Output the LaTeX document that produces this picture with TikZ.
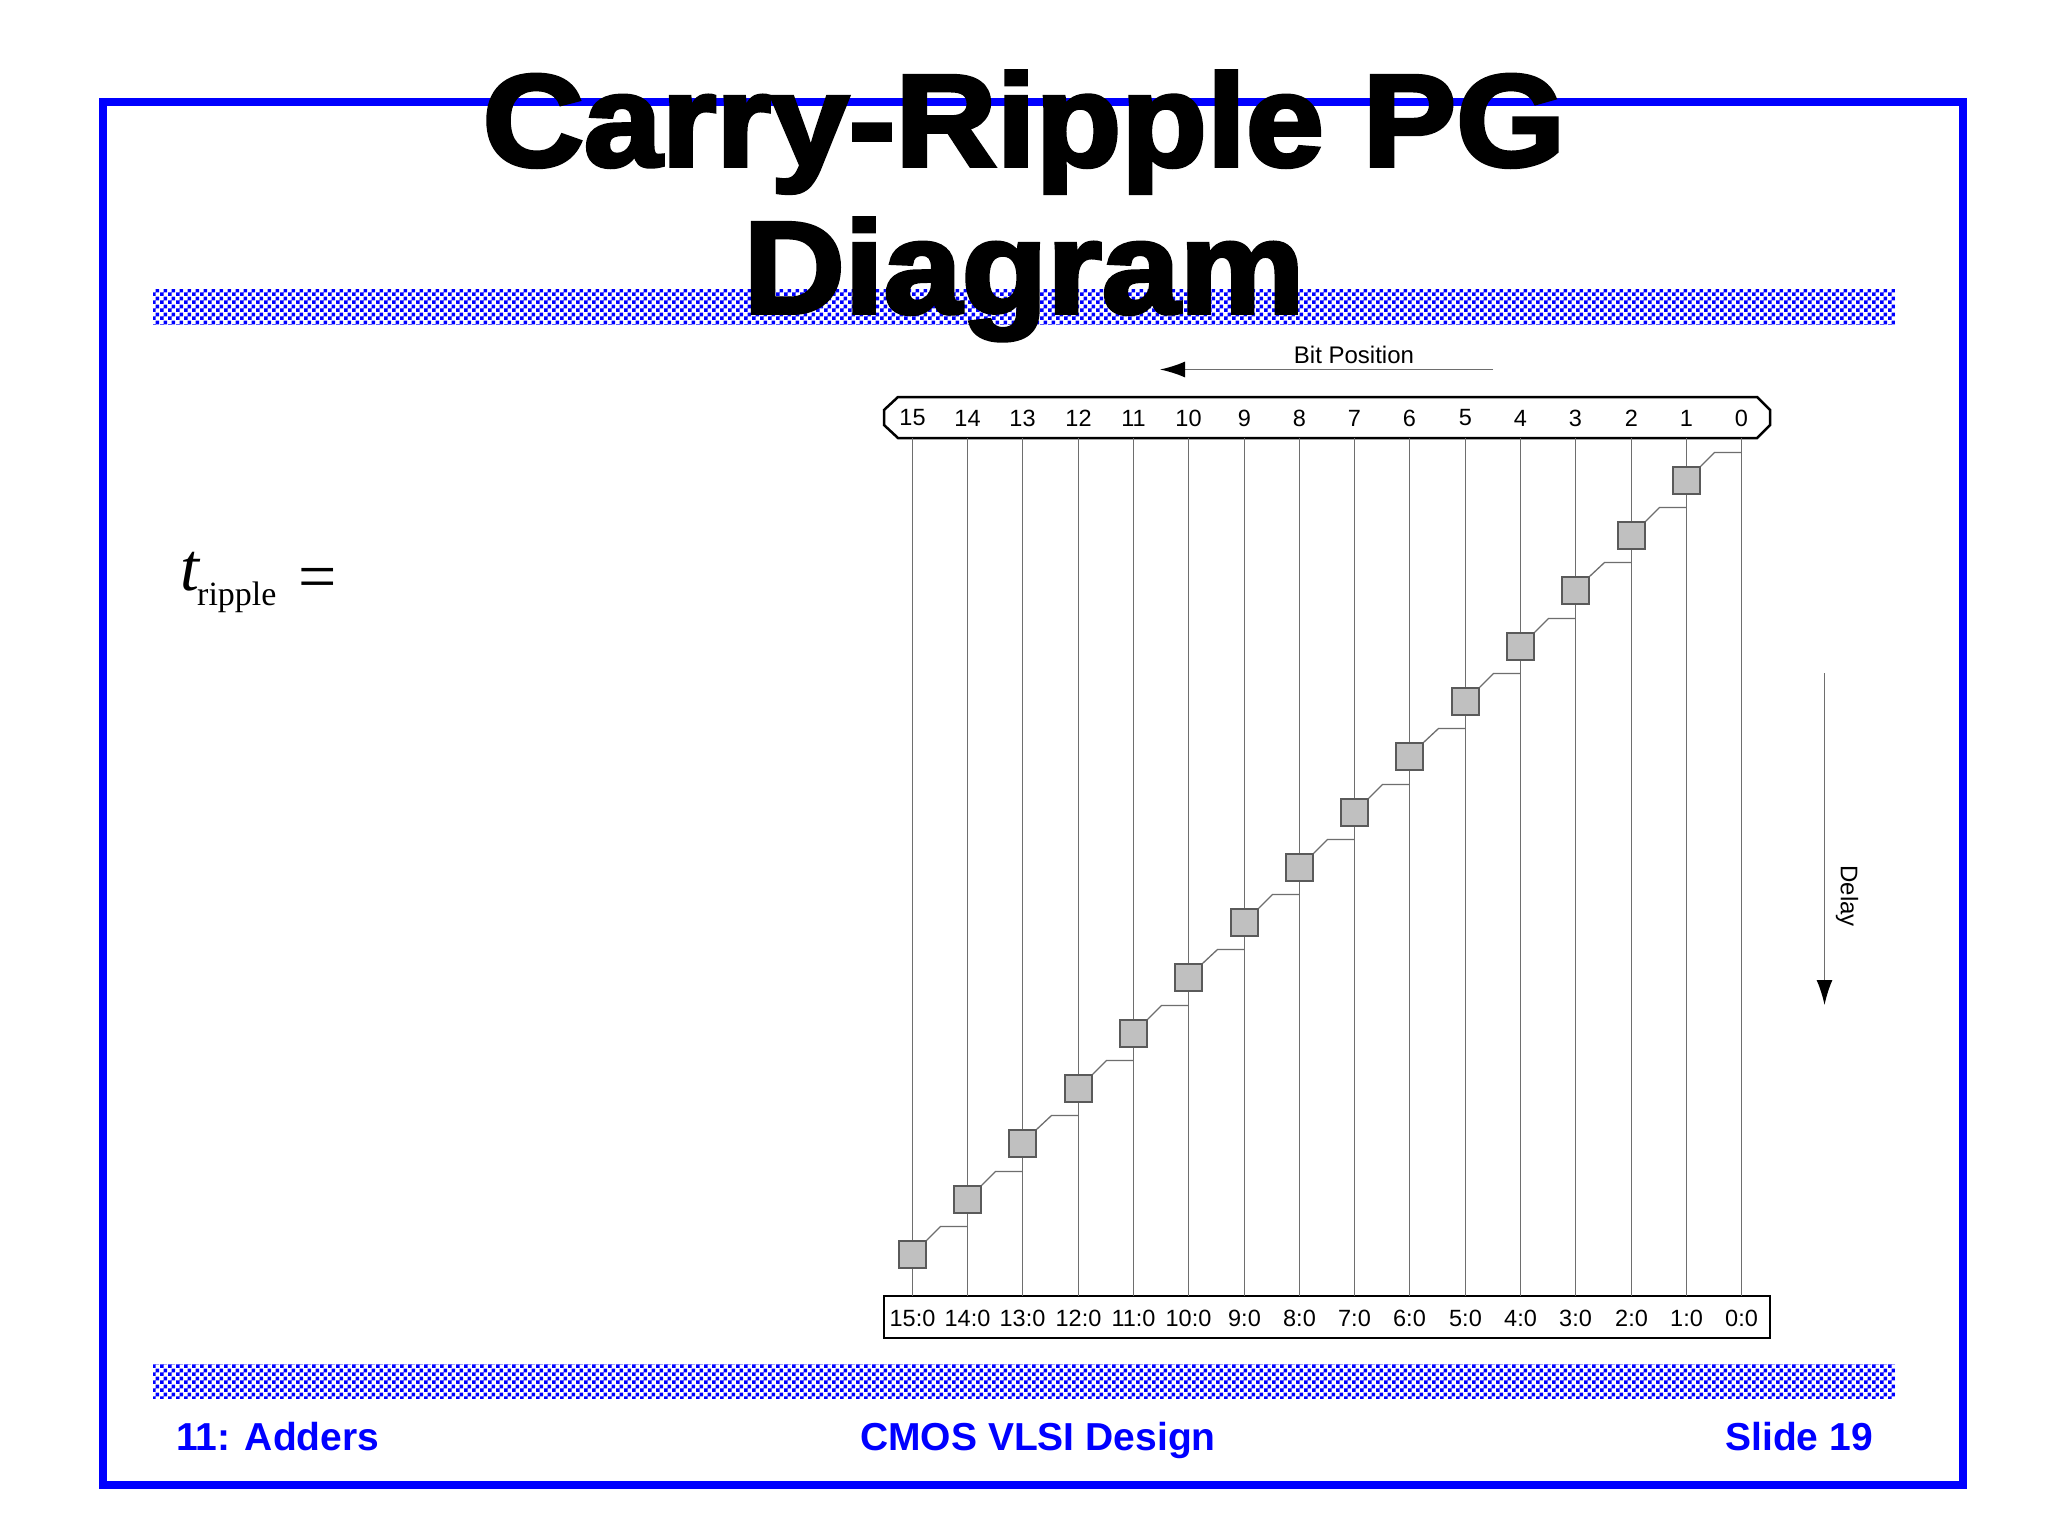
\documentclass[tikz,border=0pt]{standalone}
\usepackage{fontspec}
\setmainfont{Liberation Sans}
\newfontfamily\titlefont{Liberation Sans}[BoldFeatures={FakeBold=3}]
\newfontfamily\tserif{Liberation Serif}
\usetikzlibrary{patterns,arrows.meta}
\pgfdeclarepatternformonly{bigcheck}{\pgfpointorigin}{\pgfqpoint{8pt}{8pt}}{\pgfqpoint{8pt}{8pt}}{%
  \pgfpathrectangle{\pgfpointorigin}{\pgfqpoint{4pt}{4pt}}%
  \pgfpathrectangle{\pgfqpoint{4pt}{4pt}}{\pgfqpoint{4pt}{4pt}}%
  \pgfusepath{fill}}
\definecolor{slideblue}{RGB}{0,0,255}
\definecolor{wire}{RGB}{110,110,110}
\definecolor{cellfill}{RGB}{192,192,192}
\definecolor{celledge}{RGB}{90,90,90}
\begin{document}
\begin{tikzpicture}[x=1pt,y=-1pt,
  frame/.style={draw=slideblue,line width=8pt},
  band/.style={pattern=bigcheck,pattern color=slideblue},
  boxline/.style={draw=black,line width=2.5pt},
  vline/.style={draw=wire,line width=1.3pt},
  cell/.style={draw=celledge,fill=cellfill,line width=1.5pt,minimum size=27pt,inner sep=0pt},
  lab/.style={font=\fontsize{23.5}{26}\selectfont,inner sep=0pt},
  axlab/.style={font=\fontsize{24}{27}\selectfont,inner sep=0pt},
  axarrow/.style={draw=wire,line width=1.5pt,-{Latex[length=25pt,width=16pt,color=black]}},
  title/.style={font=\fontsize{131}{140}\titlefont\bfseries,inner sep=0pt,xscale=1.07},
  foot/.style={font=\fontsize{39}{44}\selectfont\bfseries,text=slideblue,inner sep=0pt}]
\useasboundingbox (0,0) rectangle (2048,1536);
\fill[white] (0,0) rectangle (2048,1536);
% frame and bands
\draw[frame] (102.5,102.5) rectangle (1963,1484.5);
\fill[band] (153,289) rectangle (1895,324);
\fill[band] (153,1364) rectangle (1895,1398);
% title
\node[title,anchor=base] (title1) at (1024,166) {Carry-Ripple PG};
\node[title,anchor=base] (title2) at (1024,313) {Diagram};
% t_ripple =
\node[anchor=base west,inner sep=0pt,font=\fontsize{68}{70}\tserif\itshape] (tsym) at (180,590) {t};
\node[anchor=base west,inner sep=0pt,font=\fontsize{34}{38}\tserif] (tsub) at (197,605) {ripple};
\node[anchor=base west,inner sep=0pt,font=\fontsize{68}{70}\tserif] (teq) at (298,599) {=};
% bit position arrow
\coordinate (bpR) at (1493,369.5);
\coordinate (bpL) at (1160,369.5);
\draw[axarrow] (bpR) -- (bpL);
\node[axlab] (bptext) at (1354,355) {Bit Position};
% delay arrow
\coordinate (dT) at (1824.5,673);
\coordinate (dB) at (1824.5,1005);
\draw[axarrow] (dT) -- (dB);
\node[axlab,rotate=-90] (dtext) at (1847,896) {Delay};
% top label box
\draw[boxline] (898,397) -- (1757,397) -- (1770,410) -- (1770,425) -- (1757,438)
  -- (898,438) -- (884,425) -- (884,410) -- cycle;
% bottom label box
\node[draw=black,line width=2.5pt,minimum width=886pt,minimum height=42pt,inner sep=0pt] (bbox) at (1327,1317) {};
% vertical lines and labels
\foreach \i in {0,...,15}{
  \pgfmathsetmacro\xx{round(911.7+(15-\i)*55.3)+0.5}
  \coordinate (vt\i) at (\xx,438);
  \coordinate (vb\i) at (\xx,1296);
  \draw[vline] (vt\i) -- (vb\i);
  \node[lab] (top\i) at (\xx,418) {\i};
  \node[lab] (bot\i) at (\xx,1318) {\i:0};
}
% carry chain cells
\foreach \i in {1,...,15}{
  \pgfmathsetmacro\xx{round(911.7+(15-\i)*55.3)+0.5}
  \pgfmathsetmacro\xp{round(911.7+(16-\i)*55.3)+0.5}
  \pgfmathsetmacro\yy{round(479.7+(\i-1)*55.3)+0.5}
  \pgfmathsetmacro\yh{\yy-28}
  \pgfmathsetmacro\xk{\xp-27}
  \coordinate (h\i) at (\xp,\yh);
  \coordinate (k\i) at (\xk,\yh);
  \node[cell] (s\i) at (\xx,\yy) {};
  \draw[vline] (h\i) -- (k\i) -- (s\i.north east);
}
% footer
\node[foot,anchor=base west] (f1) at (176,1450) {11: Adders};
\node[foot,anchor=base] (f2) at (1038,1450) {CMOS VLSI Design};
\node[foot,anchor=base east] (f3) at (1873,1450) {Slide 19};
\end{tikzpicture}
\end{document}
